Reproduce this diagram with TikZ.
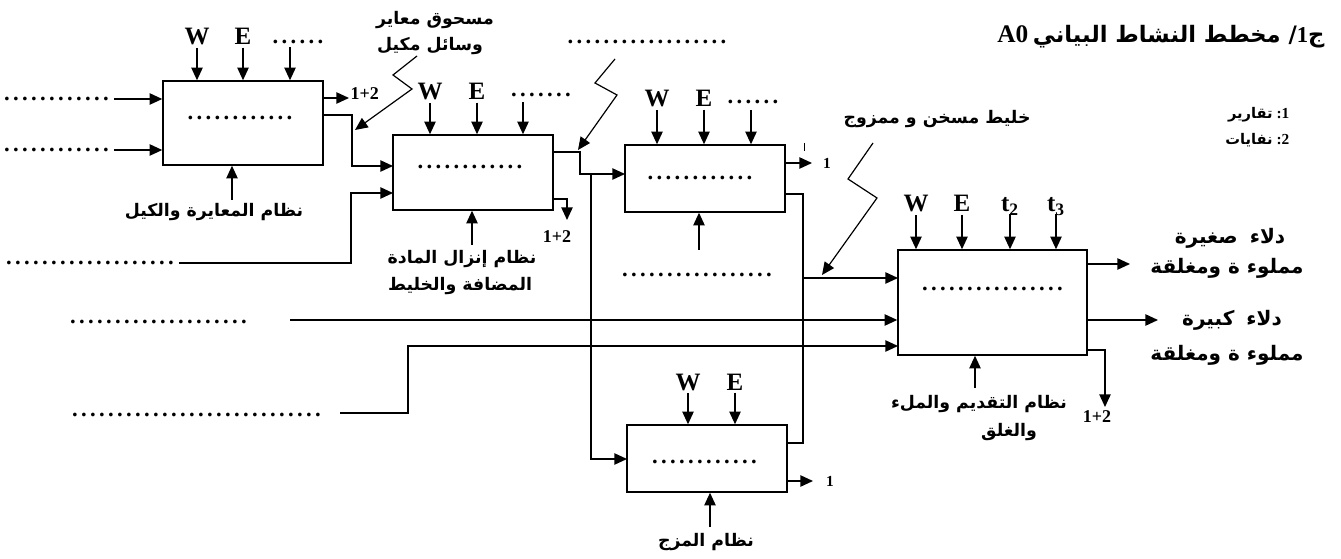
\documentclass[tikz,border=0pt]{standalone}
\usepackage{fontspec}
\usetikzlibrary{arrows.meta,fit}
\TeXXeTstate=1
\newfontfamily\arfont[Script=Arabic]{DejaVu Sans}
\newfontfamily\latfont{Liberation Serif}
\newcommand\AR[1]{\beginR #1\endR}
\newcommand\dts[1]{\makebox[\dimexpr6.75pt*#1\relax]{\xleaders\hbox to 6.75pt{\hss.\hss}\hfill}}
\begin{document}
\begin{tikzpicture}[x=0.75pt,y=-0.75pt,line width=1.1pt,
  box/.style={draw,inner sep=0pt},
  arr/.style={-{Triangle[length=9.5pt,width=8.5pt]}},
  lbl/.style={font=\latfont\bfseries\fontsize{18.75}{20}\selectfont,inner sep=0pt,anchor=base},
  dotsn/.style={font=\latfont\bfseries\fontsize{17}{18}\selectfont,inner sep=0pt,text height=2.5pt,text depth=0pt},
  arl/.style={font=\arfont\bfseries\fontsize{13}{15}\selectfont,inner sep=0pt},
  arbig/.style={font=\arfont\bfseries\fontsize{15}{17}\selectfont,inner sep=0pt},
  num/.style={font=\latfont\bfseries\fontsize{13.5}{14}\selectfont,inner sep=0pt},
  one/.style={font=\latfont\bfseries\fontsize{11.5}{12}\selectfont,inner sep=0pt}]
\useasboundingbox (0,0) rectangle (1341,559);

% ---------- title and legend
\node[inner sep=0pt] (title) at (1161,37) {{\latfont\bfseries\fontsize{19}{20}\selectfont A0} {\arfont\bfseries\fontsize{17}{19}\selectfont\AR{ج{\latfont 1}/ مخطط النشاط البياني}}};
\node[one,anchor=east] (lg1) at (1290,115) {{\arfont\bfseries\fontsize{11}{12}\selectfont\AR{تقارير}} :1};
\node[one,anchor=east] (lg2) at (1290,140) {{\arfont\bfseries\fontsize{11}{12}\selectfont\AR{نفايات}} :2};

% ---------- box 1
\node[box,fit={(163,81)(323,165)}] (b1) {};
\node[dotsn] (b1d) at (240,118) {\dts{12}};
\node[lbl] (b1w) at (197,45) {W};
\node[lbl] (b1e) at (243,45) {E};
\node[dotsn] (b1x) at (298,42) {\dts{6}};
\coordinate (b1xa) at (290,47);
\draw[arr] ([yshift=-1.5pt]b1w.south) -- (b1w.south |- b1.north);
\draw[arr] ([yshift=-1.5pt]b1e.south) -- (b1e.south |- b1.north);
\draw[arr] (b1xa) -- (b1xa |- b1.north);
\node[dotsn] (i1a) at (56.5,99) {\dts{12}};
\node[dotsn] (i1b) at (56.5,150) {\dts{12}};
\draw[arr] ([xshift=2pt]i1a.east) -- (b1.west |- i1a);
\draw[arr] ([xshift=2pt]i1b.east) -- (b1.west |- i1b);
\node[arl] (b1c) at (214,212) {\AR{نظام المعايرة والكيل}};
\coordinate (b1ca) at (232,200);
\draw[arr] (b1ca) -- (b1ca |- b1.south);
% outputs of box 1
\node[num,anchor=west] (o1) at (350,94) {1+2};
\coordinate (o1t) at (349,98);
\draw[arr] (b1.east |- o1t) -- (o1t);
\coordinate (j1) at (352,115);
\coordinate (b2in1) at (393,166);
\draw[arr] (b1.east |- j1) -- (j1) |- (b2in1);

% zigzag 1
\node[arl] (z1a) at (435,20) {\AR{مسحوق معاير}};
\node[arl] (z1b) at (430,46) {\AR{وسائل مكيل}};
\coordinate (k1a) at (417,56);
\coordinate (k1b) at (393,75);
\coordinate (k1c) at (412,89);
\coordinate (k1d) at (355,130);
\draw[arr,line width=0.9pt] (k1a) -- (k1b) -- (k1c) -- (k1d);

% ---------- box 2
\node[box,fit={(393,135)(553,210)}] (b2) {};
\node[dotsn] (b2d) at (470,167) {\dts{12}};
\node[lbl] (b2w) at (430,100) {W};
\node[lbl] (b2e) at (477,100) {E};
\node[dotsn] (b2x) at (541,95) {\dts{7}};
\coordinate (b2xa) at (523,102);
\draw[arr] ([yshift=-1.5pt]b2w.south) -- (b2w.south |- b2.north);
\draw[arr] ([yshift=-1.5pt]b2e.south) -- (b2e.south |- b2.north);
\draw[arr] (b2xa) -- (b2xa |- b2.north);
\node[arl] (b2c1) at (462,259) {\AR{نظام إنزال المادة}};
\node[arl] (b2c2) at (460,286) {\AR{المضافة والخليط}};
\coordinate (b2ca) at (472,245);
\draw[arr] (b2ca) -- (b2ca |- b2.south);
\node[dotsn] (dL2) at (90,263) {\dts{19}};
\coordinate (j2) at (351,263);
\coordinate (b2in2) at (393,193);
\draw[arr] ([xshift=2pt]dL2.east) -- (j2) |- (b2in2);
% outputs of box 2
\coordinate (o2a) at (567,199);
\coordinate (o2b) at (567,220);
\draw[arr] (b2.east |- o2a) -- (o2a) -- (o2b);
\node[num] (o2l) at (557,237) {1+2};
\coordinate (j3) at (580,152);
\coordinate (b3in) at (625,174);
\draw[arr] (b2.east |- j3) -- (j3) |- (b3in);
\coordinate (j4) at (591,174);
\coordinate (b5in) at (627,459);
\draw[arr] (j4) |- (b5in);

% zigzag 2
\node[dotsn] (dz) at (647,42) {\dts{18}};
\coordinate (k2a) at (615,59);
\coordinate (k2b) at (595,83);
\coordinate (k2c) at (617,95);
\coordinate (k2d) at (578,150);
\draw[arr,line width=0.9pt] (k2a) -- (k2b) -- (k2c) -- (k2d);

% ---------- box 3
\node[box,fit={(625,145)(785,212)}] (b3) {};
\node[dotsn] (b3d) at (700,178) {\dts{12}};
\node[lbl] (b3w) at (657,107) {W};
\node[lbl] (b3e) at (704,107) {E};
\node[dotsn] (b3x) at (753,102) {\dts{6}};
\coordinate (b3xa) at (751,110);
\draw[arr] ([yshift=-1.5pt]b3w.south) -- (b3w.south |- b3.north);
\draw[arr] ([yshift=-1.5pt]b3e.south) -- (b3e.south |- b3.north);
\draw[arr] (b3xa) -- (b3xa |- b3.north);
\node[one] (o3l) at (827,163) {1};
\coordinate (o3t) at (812,163);
\draw[arr] (b3.east |- o3t) -- (o3t);
\coordinate (tk) at (804,143);
\draw[line width=0.7pt] (tk) -- ++(0,8);
\coordinate (b3ca) at (699,250);
\draw[arr] (b3ca) -- (b3ca |- b3.south);
\node[dotsn] (d3b) at (697,275) {\dts{17}};
% merge to box 4
\coordinate (j5) at (803,194);
\coordinate (b4in1) at (898,278);
\draw[arr] (b3.east |- j5) -- (j5) |- (b4in1);
\coordinate (j6) at (803,443);

% zigzag 3
\node[arl] (z3) at (937,119) {\AR{خليط مسخن و ممزوج}};
\coordinate (k3a) at (873,143);
\coordinate (k3b) at (848,179);
\coordinate (k3c) at (877,198);
\coordinate (k3d) at (822,275);
\draw[arr,line width=0.9pt] (k3a) -- (k3b) -- (k3c) -- (k3d);

% ---------- box 4
\node[box,fit={(898,250)(1087,355)}] (b4) {};
\node[dotsn] (b4d) at (992.5,289) {\dts{16}};
\node[lbl] (b4w) at (916,212) {W};
\node[lbl] (b4e) at (962,212) {E};
\node[lbl] (b4t2) at (1010,212) {t\textsubscript{2}};
\node[lbl] (b4t3) at (1056,212) {t\textsubscript{3}};
\draw[arr] ([yshift=-1.5pt]b4w.south) -- (b4w.south |- b4.north);
\draw[arr] ([yshift=-1.5pt]b4e.south) -- (b4e.south |- b4.north);
\coordinate (b4ta) at (1010,214);
\coordinate (b4tb) at (1056,214);
\draw[arr] (b4ta) -- (b4ta |- b4.north);
\draw[arr] (b4tb) -- (b4tb |- b4.north);
\node[dotsn] (dL3) at (158.5,322) {\dts{20}};
\coordinate (i4a) at (290,320);
\draw[arr] (i4a) -- (b4.west |- i4a);
\node[dotsn] (dL4) at (196.5,415) {\dts{28}};
\coordinate (i4b) at (340,413);
\coordinate (j7) at (408,413);
\coordinate (b4in3) at (898,346);
\draw[arr] (i4b) -- (j7) |- (b4in3);
% outputs of box 4
\coordinate (o4a) at (1130,264);
\coordinate (o4b) at (1158,320);
\draw[arr] (b4.east |- o4a) -- (o4a);
\draw[arr] (b4.east |- o4b) -- (o4b);
\coordinate (o4c) at (1105,350);
\coordinate (o4d) at (1105,407);
\draw[arr] (b4.east |- o4c) -- (o4c) -- (o4d);
\node[num] (o4l) at (1097,417) {1+2};
\node[arbig] (r1) at (1230,238) {\AR{دلاء\hspace{9pt}صغيرة}};
\node[arbig] (r2) at (1227,268) {\AR{مملوء ة ومغلقة}};
\node[arbig] (r3) at (1232,320) {\AR{دلاء\hspace{9pt}كبيرة}};
\node[arbig] (r4) at (1227,355) {\AR{مملوء ة ومغلقة}};
\node[arl] (b4c1) at (979,404) {\AR{نظام التقديم والملء}};
\node[arl] (b4c2) at (1009,432) {\AR{والغلق}};
\coordinate (b4ca) at (975,388);
\draw[arr] (b4ca) -- (b4ca |- b4.south);

% ---------- box 5
\node[box,fit={(627,425)(787,492)}] (b5) {};
\node[dotsn] (b5d) at (704.5,462) {\dts{12}};
\node[lbl] (b5w) at (688,390) {W};
\node[lbl] (b5e) at (735,390) {E};
\draw[arr] ([yshift=-1.5pt]b5w.south) -- (b5w.south |- b5.north);
\draw[arr] ([yshift=-1.5pt]b5e.south) -- (b5e.south |- b5.north);
\coordinate (o5t) at (813,481);
\draw[arr] (b5.east |- o5t) -- (o5t);
\node[one] (o5l) at (830,481) {1};
\node[arl] (b5c) at (706,542) {\AR{نظام المزج}};
\coordinate (b5ca) at (710,527);
\draw[arr] (b5ca) -- (b5ca |- b5.south);
\draw (b5.east |- j6) -- (j6) -- (j5 |- b4in1);
\end{tikzpicture}
\end{document}
